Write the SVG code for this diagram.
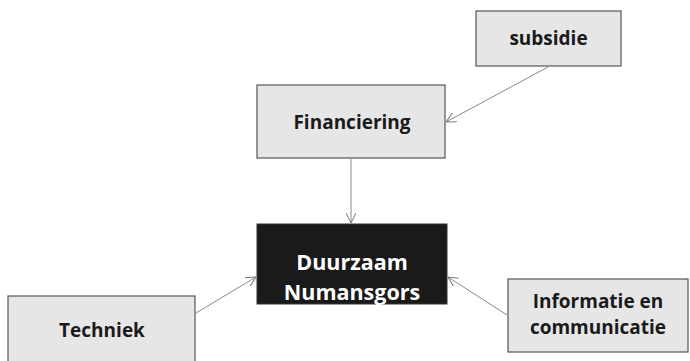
<svg xmlns="http://www.w3.org/2000/svg" width="690" height="361" viewBox="0 0 690 361">
  <defs>
    <marker id="arrow" viewBox="0 0 10 10" refX="10" refY="5" markerWidth="10" markerHeight="10" markerUnits="userSpaceOnUse" orient="auto">
      <path d="M0,0 L10,5 L0,10" fill="none" stroke="#777" stroke-width="1"/>
    </marker>
  </defs>
  <style>
    .box { fill: #e6e6e6; stroke: #555; stroke-width: 1.2; }
    .box-dark { fill: #1a1a1a; stroke: #333; stroke-width: 1; }
    .label { font-family: "Open Sans", "Noto Sans", sans-serif; font-weight: bold; font-size: 19px; fill: #1a1a1a; text-anchor: middle; }
    .label-main { font-family: "Open Sans", "Noto Sans", sans-serif; font-weight: bold; font-size: 21.5px; fill: #ffffff; text-anchor: middle; }
    .edge { stroke: #888; stroke-width: 1; fill: none; marker-end: url(#arrow); }
  </style>
  <rect width="690" height="361" fill="#ffffff"/>

  <g id="connectors">
    <line class="edge" x1="548" y1="67" x2="446" y2="122"/>
    <line class="edge" x1="351" y1="159" x2="351" y2="223"/>
    <line class="edge" x1="196" y1="313" x2="256" y2="277"/>
    <line class="edge" x1="507" y1="315" x2="448" y2="277"/>
  </g>

  <g id="subsidie">
    <rect class="box" x="476" y="11" width="145" height="55" stroke="#333" stroke-width="2"/>
    <text class="label" x="548.5" y="45">subsidie</text>
  </g>

  <g id="financiering">
    <rect class="box" x="257" y="85" width="188" height="73"/>
    <text class="label" x="352" y="129">Financiering</text>
  </g>

  <g id="duurzaam-numansgors">
    <rect class="box-dark" x="257" y="224" width="190" height="80"/>
    <text class="label-main" x="352" y="269.5">Duurzaam</text>
    <text class="label-main" x="352" y="299.5">Numansgors</text>
  </g>

  <g id="techniek">
    <rect class="box" x="8" y="296" width="187" height="70"/>
    <text class="label" x="102" y="337">Techniek</text>
  </g>

  <g id="informatie-communicatie">
    <rect class="box" x="508" y="279" width="180" height="73"/>
    <text class="label" x="598" y="308">Informatie en</text>
    <text class="label" x="598" y="334">communicatie</text>
  </g>
</svg>
